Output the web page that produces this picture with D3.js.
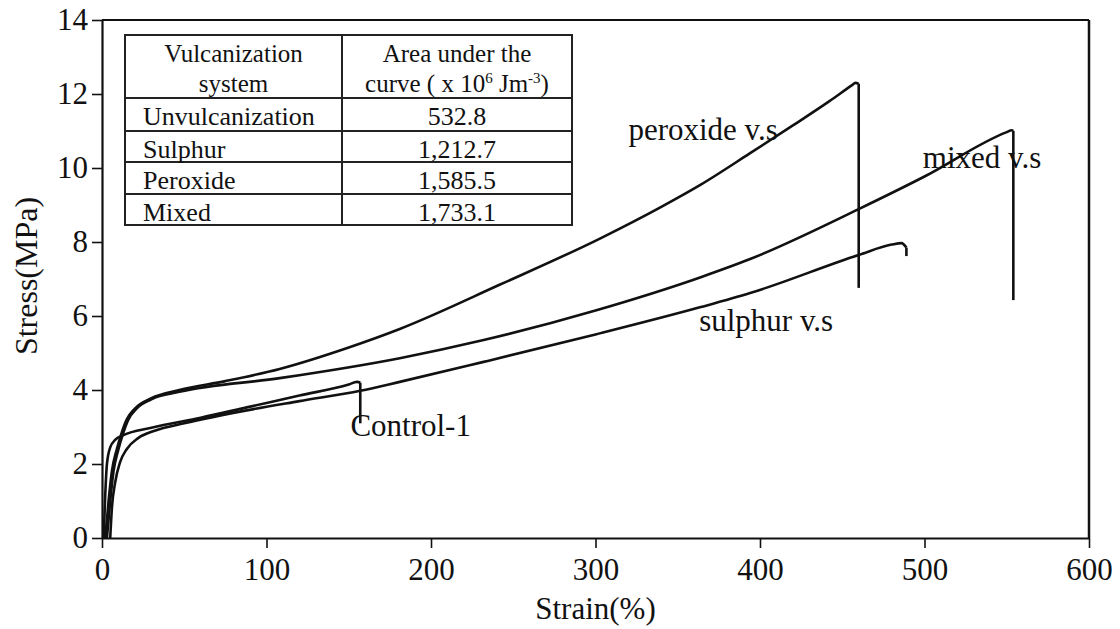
<!DOCTYPE html>
<html>
<head>
<meta charset="utf-8">
<script src="https://cdn.jsdelivr.net/npm/d3@7"></script>
<style>
  body { margin: 0; background: #fff; }
  text { font-family: 'Liberation Serif', 'Times New Roman', serif; fill: #111; }
</style>
</head>
<body>
<div id="chart"></div>
<script>
// stress-strain curves, [strain %, stress MPa]
const peroxide = [
  [2, 0], [4, 1.0], [6, 1.8], [9, 2.4], [12, 2.85], [15, 3.2], [20, 3.5], [30, 3.78],
  [47, 4.0], [75, 4.24], [108, 4.57], [150, 5.15], [181, 5.65], [242, 6.85], [303, 8.1],
  [340, 8.95], [364, 9.55], [394, 10.4], [420, 11.15], [442, 11.8], [456, 12.24], [458, 12.3],
  [460, 12.28], [460, 6.76]
]
const mixed = [
  [3, 0], [5, 1.0], [7, 1.8], [10, 2.4], [13, 2.85], [16, 3.2], [21, 3.5], [30, 3.75],
  [47, 3.95], [108, 4.32], [181, 4.86], [232, 5.35], [300, 6.15], [364, 7.05], [394, 7.54],
  [460, 8.89], [500, 9.77], [550, 10.97], [553, 11.02], [554, 11.0], [554, 6.43]
]
const sulphur = [
  [5, 0], [6, 0.8], [8, 1.5], [11, 2.05], [15, 2.4], [22, 2.7], [32, 2.9], [50, 3.1],
  [88, 3.45], [120, 3.7], [157, 3.98], [181, 4.22], [232, 4.76], [300, 5.5], [364, 6.24],
  [394, 6.62], [460, 7.65], [480, 7.93], [486, 7.97], [489, 7.85], [489, 7.62]
]
const control = [
  [1, 0], [2, 1.2], [3, 2.0], [5, 2.45], [8, 2.65], [13, 2.78], [30, 2.98], [60, 3.25],
  [88, 3.53], [120, 3.85], [150, 4.15], [155, 4.22], [157, 4.2], [157, 3.1]
]

const xTicks = [0, 100, 200, 300, 400, 500, 600]
const yTicks = [0, 2, 4, 6, 8, 10, 12, 14]

// inset table
const tableHeader = [['Vulcanization', 'system'], ['Area under the', 'curve ( x 10']]
const tableNames = ['Unvulcanization', 'Sulphur', 'Peroxide', 'Mixed']
const tableValues = ['532.8', '1,212.7', '1,585.5', '1,733.1']

// curve labels [text, strain, stress]
const labels = [
  ['peroxide v.s', 320, 10.75],
  ['mixed v.s', 499, 10.0],
  ['sulphur v.s', 363, 5.6],
  ['Control-1', 151, 2.76]
]

const margin = { top: 20, left: 102, right: 31, bottom: 91 }
const width = 1120 - margin.left - margin.right
const height = 629 - margin.top - margin.bottom

const svg = d3
  .select('#chart')
  .append('svg')
  .attr('width', 1120)
  .attr('height', 629)
  .append('g')
  .attr('transform', 'translate(' + margin.left + ',' + margin.top + ')')

const x = d3.scaleLinear().domain([0, 600]).range([0, width])
const y = d3.scaleLinear().domain([0, 14]).range([height, 0])

// frame top + right
svg.append('line')
  .attr('x1', 0).attr('x2', width).attr('y1', 0).attr('y2', 0)
  .attr('stroke', '#111').attr('stroke-width', 2)
svg.append('line')
  .attr('x1', width).attr('x2', width).attr('y1', 0).attr('y2', height)
  .attr('stroke', '#111').attr('stroke-width', 2.5)

const xAxis = svg.append('g')
  .attr('transform', 'translate(0,' + height + ')')
  .call(d3.axisBottom(x).tickValues(xTicks).tickSize(10).tickSizeOuter(0).tickPadding(10))
const yAxis = svg.append('g')
  .call(d3.axisLeft(y).tickValues(yTicks).tickSize(10).tickSizeOuter(0).tickPadding(4))

svg.selectAll('.domain').attr('stroke', '#111').attr('stroke-width', 2.2)
svg.selectAll('.tick line').attr('stroke', '#111').attr('stroke-width', 1.6)
xAxis.selectAll('text')
  .attr('font-size', 31)
  .attr('font-family', "'Liberation Serif', serif")
  .attr('fill', '#111')
yAxis.selectAll('text')
  .attr('font-size', 31)
  .attr('font-family', "'Liberation Serif', serif")
  .attr('fill', '#111')

svg.append('text')
  .attr('x', width / 2)
  .attr('y', height + 81)
  .attr('text-anchor', 'middle')
  .attr('font-size', 31)
  .text('Strain(%)')

svg.append('text')
  .attr('transform', 'translate(' + (-65) + ',' + (height / 2 - 3) + ') rotate(-90)')
  .attr('text-anchor', 'middle')
  .attr('font-size', 32)
  .text('Stress(MPa)')

// curves: smooth body, straight drop at failure
const smooth = d3.line()
  .x(d => x(d[0]))
  .y(d => y(d[1]))
  .curve(d3.curveMonotoneX)
const straight = d3.line()
  .x(d => x(d[0]))
  .y(d => y(d[1]))

const series = [peroxide, mixed, sulphur, control]
series.forEach(function(s) {
  svg.append('path')
    .attr('d', smooth(s.slice(0, -1)))
    .attr('fill', 'none')
    .attr('stroke', '#111')
    .attr('stroke-width', 2.6)
  svg.append('path')
    .attr('d', straight(s.slice(-2)))
    .attr('fill', 'none')
    .attr('stroke', '#111')
    .attr('stroke-width', 2.6)
})

svg.selectAll('.curve-label')
  .data(labels)
  .enter()
  .append('text')
  .attr('class', 'curve-label')
  .attr('x', d => x(d[1]))
  .attr('y', d => y(d[2]))
  .attr('font-size', 31)
  .text(d => d[0])

// table
const tbl = svg.append('g').attr('transform', 'translate(23,15)')
const tW = 447
const colX = 217
const rowY = [0, 63, 96, 127, 159, 190]

tbl.append('rect')
  .attr('width', tW).attr('height', rowY[5])
  .attr('fill', '#fff').attr('stroke', '#222').attr('stroke-width', 2)
tbl.append('line')
  .attr('x1', colX).attr('x2', colX).attr('y1', 0).attr('y2', rowY[5])
  .attr('stroke', '#222').attr('stroke-width', 2)
tbl.selectAll('.row-line')
  .data(rowY.slice(1, 5))
  .enter()
  .append('line')
  .attr('class', 'row-line')
  .attr('x1', 0).attr('x2', tW)
  .attr('y1', d => d).attr('y2', d => d)
  .attr('stroke', '#222').attr('stroke-width', 2)

tbl.append('text').attr('x', colX / 2).attr('y', 27)
  .attr('text-anchor', 'middle').attr('font-size', 25).text(tableHeader[0][0])
tbl.append('text').attr('x', colX / 2).attr('y', 57)
  .attr('text-anchor', 'middle').attr('font-size', 25).text(tableHeader[0][1])
tbl.append('text').attr('x', (colX + tW) / 2).attr('y', 27)
  .attr('text-anchor', 'middle').attr('font-size', 25).text(tableHeader[1][0])
const unit = tbl.append('text').attr('x', (colX + tW) / 2).attr('y', 57)
  .attr('text-anchor', 'middle').attr('font-size', 25)
unit.append('tspan').text(tableHeader[1][1])
unit.append('tspan').attr('font-size', 15).attr('dy', -9).text('6')
unit.append('tspan').attr('dy', 9).text(' Jm')
unit.append('tspan').attr('font-size', 15).attr('dy', -9).text('-3')
unit.append('tspan').attr('dy', 9).text(')')

tbl.selectAll('.t-name')
  .data(tableNames)
  .enter()
  .append('text')
  .attr('class', 't-name')
  .attr('x', 18)
  .attr('y', (d, i) => rowY[i + 1] + 27)
  .attr('font-size', 26)
  .text(d => d)

tbl.selectAll('.t-val')
  .data(tableValues)
  .enter()
  .append('text')
  .attr('class', 't-val')
  .attr('x', (colX + tW) / 2)
  .attr('y', (d, i) => rowY[i + 1] + 27)
  .attr('text-anchor', 'middle')
  .attr('font-size', 26)
  .text(d => d)
</script>
</body>
</html>
